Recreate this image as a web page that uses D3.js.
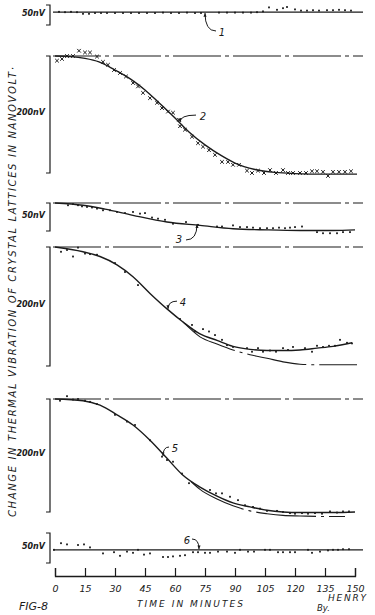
<!DOCTYPE html>
<html>
<head>
<meta charset="utf-8">
<script src="https://cdn.jsdelivr.net/npm/d3@7/dist/d3.min.js"></script>
<style>
  body { margin: 0; background: #fff; }
  text { font-family: "DejaVu Sans", sans-serif; font-style: italic; fill: #1a1a1a; }
</style>
</head>
<body>
<div id="chart"></div>
<script>
// ---- datos (minutos, nanovoltios) --------------------------------------
const timeTicks = [0, 15, 30, 45, 60, 75, 90, 105, 120, 135, 150];
const scaleLabels = ["50nV", "200nV", "50nV", "200nV", "200nV", "50nV"];

const dots1 = [[2,1],[5,0],[8,1],[11,0],[14,-4],[17,-4],[20,-2],[23,-2],[26,-2],[30,-2],[34,-2],[38,-2],
  [42,-2],[46,-2],[50,-2],[54,-1],[58,-2],[62,-2],[66,-1],[70,-2],[73,-2],[82,-1],[86,-1],[90,-1],
  [94,-1],[98,-1],[101,0],[104,2],[107,12],[111,6],[114,10],[116,13],[120,7],[123,4],[126,4],
  [129,5],[132,4],[136,5],[139,5],[142,6],[145,5],[148,4]];

const curve2 = [[0,0],[8,-1],[15,-4],[22,-10],[30,-24],[38,-40],[45,-58],[52,-80],[60,-106],[67,-130],
  [75,-152],[83,-170],[90,-183],[100,-194],[110,-199],[120,-201],[135,-202],[151,-202]];
const marks2 = [[1,-8],[3.5,-5],[6,0],[9,0],[12,9],[15,6],[17.5,6],[21,-1],[24,-10],[26.5,-15],[29.5,-24],
  [32.5,-29],[35.5,-35],[39,-46],[41.5,-52],[44,-63],[47.5,-72],[51,-80],[53.5,-89],[56.5,-95],[59,-97],
  [62,-109],[62.5,-120],[65,-126],[68.5,-138],[71.5,-149],[74,-155],[77,-161],[80,-169],[83.5,-181],
  [86.5,-181],[89,-186],[92,-186],[96,-196],[98.5,-200],[101.5,-196],[104.5,-200],[107.5,-195],
  [110.5,-200],[114,-195],[116.5,-200],[119,-200],[122.5,-200],[125.5,-200],[128.5,-197],[131,-197],
  [134,-198],[136.5,-205],[139,-198],[142,-198],[145,-198],[148,-197]];

const curve3 = [[0,0],[14,-4],[25,-11],[39,-22],[56,-34],[72.5,-40],[89,-46],[106,-48],[122.5,-49],[139,-49],[150,-48]];
const dots3 = [[6.5,-4],[9,-2],[11.5,-4],[13.5,-6],[16,-7],[18.5,-8],[21,-10],[24,-13],[27.5,-13],[31,-16],
  [35,-18],[39,-16],[42.5,-19],[45,-18],[48.5,-26],[51.5,-28],[55,-30],[59,-37],[65.5,-34],[71.5,-39],
  [81,-42],[83.5,-42],[89,-40],[92.5,-43],[96,-43],[99,-44],[102.5,-45],[106,-45],[109,-45],[112,-44],
  [115,-45],[117.5,-44],[120,-43],[123.5,-42],[131,-52],[134,-54],[137.5,-54],[141,-54],[144,-52],[147.5,-52]];

const curve4 = [[0,0],[14,-8],[22.5,-16],[31,-30],[39,-50],[47.5,-78],[56,-104],[64,-126],[72.5,-146],
  [81,-157],[89,-167],[97.5,-172],[106,-174],[114,-174],[122.5,-173],[131,-170],[139,-167],[148.5,-161]];
const theory4 = [[64,-126],[72.5,-151],[81,-163],[89,-173],[97.5,-181],[106,-187],[114,-193],[122.5,-197],
  [131,-198],[139,-198],[151,-198]];
const dots4 = [[3,-8],[6,-5],[9,-16],[11.5,-1],[15,-11],[17.5,-12],[21,-13],[30,-27],[35,-42],[41.5,-64],
  [62.5,-121],[68.5,-131],[70,-142],[74,-138],[77,-142],[80,-148],[83.5,-156],[86,-165],[89,-168],
  [96,-170],[98.5,-176],[101.5,-170],[104,-176],[107.5,-174],[110.5,-176],[114,-170],[116.5,-173],
  [119,-168],[125,-170],[128.5,-176],[131,-166],[134,-168],[137,-166],[140,-166],[142.5,-156],
  [146,-161],[148.5,-162]];

const curve5 = [[0,0],[14,-3],[22.5,-11],[31,-28],[39,-46],[47.5,-73],[56,-105],[64,-135],[72.5,-156],
  [81,-172],[89,-184],[97.5,-191],[106,-197],[114,-200],[122.5,-201],[139,-201],[150,-200]];
const theory5 = [[68,-146],[72.5,-160],[81,-177],[89,-189],[97.5,-198],[106,-203],[114,-206],[122.5,-207],
  [135,-208],[145,-208]];
const dots5 = [[2.5,-3],[6,5],[9,-1],[11.5,0],[15,-3],[17.5,-5],[21,-9],[30,-28],[36,-40],[40,-46],
  [47.5,-73],[53.5,-102],[56,-108],[59,-111],[63.5,-132],[67,-149],[77.5,-161],[80.5,-167],[83.5,-167],
  [87.5,-173],[91.5,-179],[95,-188],[99,-191],[102.5,-194],[106,-198],[111,-198],[114,-200],
  [117.5,-202],[120,-203],[123.5,-202],[126.5,-203],[130,-202],[133.5,-203],[137.5,-199],[141,-201],
  [144,-199],[147,-199]];

const dots6 = [[-0.5,0],[3,11],[6,9],[11.5,8],[14.5,9],[17.5,4],[24,-6],[29.5,-4],[32.5,-10],[36,-3],
  [39,-5],[41.5,0],[44.5,-8],[47.5,-6],[54,-12],[56.5,-12],[59,-11],[62.5,-10],[65,-9],[69,-4],
  [71.5,-4],[75,-5],[77.5,-5],[81.5,-3],[86,-3],[90,-5],[92.5,0],[96.5,-3],[99.5,-3],[105,0],
  [107.5,0],[111.5,-4],[114,-4],[117.5,-4],[120,-4],[126.5,0],[128.5,-5],[132.5,-3],[136.5,-1],
  [139,0],[141.5,0],[144,1],[147,1]];

// referencias numeradas: panel, punta de flecha, cola, texto (minutos, nV)
const callouts = [
  { panel: 0, text: "1", at: [75, -2],    tail: [80.5, -47], label: [83.5, -50] },
  { panel: 1, text: "2", at: [62.5, -113], tail: [70.5, -101], label: [74, -103] },
  { panel: 2, text: "3", at: [71, -38],   tail: [65.5, -66], label: [62, -66] },
  { panel: 3, text: "4", at: [56.5, -104], tail: [61, -91], label: [64, -94] },
  { panel: 4, text: "5", at: [54, -101],  tail: [57, -85], label: [60, -88] },
  { panel: 5, text: "6", at: [72, 1],     tail: [68.5, 18], label: [66, 15] }
];

// ---- layout -------------------------------------------------------------
const WIDTH = 375, HEIGHT = 615;
const INK = "#1b1b1b";
const svg = d3.select("#chart").append("svg").attr("width", WIDTH).attr("height", HEIGHT);

const x = d3.scaleLinear().domain([0, 150]).range([55, 355]);

const panels = [
  { domain: [18, -32],  range: [5, 25],    base: "solid",   curve: null,    theory: null,    pts: dots1,  kind: "dot" },
  { domain: [0, -200],  range: [56, 173],  base: "dashdot", curve: curve2,  theory: null,    pts: marks2, kind: "x" },
  { domain: [0, -50],   range: [203, 231], base: "dashdot", curve: curve3,  theory: null,    pts: dots3,  kind: "dot" },
  { domain: [0, -200],  range: [247, 366], base: "dashdot", curve: curve4,  theory: theory4, pts: dots4,  kind: "dot" },
  { domain: [0, -200],  range: [399, 512], base: "dashdot", curve: curve5,  theory: theory5, pts: dots5,  kind: "dot" },
  { domain: [28, -22],  range: [533, 563], base: "solid",   curve: null,    theory: null,    pts: dots6,  kind: "dot" }
];

const DASHDOT = "48,4,4,4";

panels.forEach((p, i) => {
    const y = d3.scaleLinear().domain(p.domain).range(p.range);
    p.y = y;
    const g = svg.append("g");

    // corchete de escala
    const bx = x(0) - 5;
    g.append("path")
        .attr("d", `M${bx - 4},${y(p.domain[0])}H${bx}V${y(p.domain[1])}H${bx - 4}`)
        .attr("fill", "none")
        .attr("stroke", INK)
        .attr("stroke-width", 1.2);

    g.append("text")
        .attr("x", bx - 5)
        .attr("y", (y(p.domain[0]) + y(p.domain[1])) / 2 - 2)
        .attr("text-anchor", "end")
        .attr("dominant-baseline", "central")
        .attr("font-size", "8px")
        .attr("font-weight", "bold")
        .text(scaleLabels[i]);

    // línea base
    g.append("line")
        .attr("x1", x(-1)).attr("x2", x(154))
        .attr("y1", y(0)).attr("y2", y(0))
        .attr("stroke", INK)
        .attr("stroke-width", 1.2)
        .attr("stroke-dasharray", p.base === "dashdot" ? DASHDOT : null);

    const line = d3.line().x(d => x(d[0])).y(d => y(d[1])).curve(d3.curveMonotoneX);

    if (p.theory) {
        g.append("path")
            .attr("d", line(p.theory))
            .attr("fill", "none")
            .attr("stroke", INK)
            .attr("stroke-width", 1.1)
            .attr("stroke-dasharray", "60,5,3,5");
    }
    if (p.curve) {
        g.append("path")
            .attr("d", line(p.curve))
            .attr("fill", "none")
            .attr("stroke", INK)
            .attr("stroke-width", 1.4);
    }

    if (p.kind === "x") {
        g.selectAll(".marca")
            .data(p.pts)
            .enter()
            .append("path")
            .attr("class", "marca")
            .attr("transform", d => `translate(${x(d[0])},${y(d[1])})`)
            .attr("d", "M-1.8,-1.8L1.8,1.8M-1.8,1.8L1.8,-1.8")
            .attr("stroke", INK)
            .attr("stroke-width", 1);
    } else {
        g.selectAll(".punto")
            .data(p.pts)
            .enter()
            .append("rect")
            .attr("class", "punto")
            .attr("x", d => x(d[0]) - 0.9)
            .attr("y", d => y(d[1]) - 0.9)
            .attr("width", 1.8)
            .attr("height", 1.8)
            .attr("fill", INK);
    }
});

// ---- referencias con flecha ---------------------------------------------
callouts.forEach(c => {
    const y = panels[c.panel].y;
    const tx = x(c.at[0]), ty = y(c.at[1]);
    const sx = x(c.tail[0]), sy = y(c.tail[1]);
    const cx = tx, cy = sy;
    svg.append("path")
        .attr("d", `M${sx},${sy}Q${cx},${cy} ${tx},${ty}`)
        .attr("fill", "none")
        .attr("stroke", INK)
        .attr("stroke-width", 1);
    const ang = Math.atan2(ty - cy, tx - cx);
    const a1 = ang + Math.PI - 0.4, a2 = ang + Math.PI + 0.4;
    svg.append("path")
        .attr("d", `M${tx},${ty}L${tx + 4 * Math.cos(a1)},${ty + 4 * Math.sin(a1)}L${tx + 4 * Math.cos(a2)},${ty + 4 * Math.sin(a2)}Z`)
        .attr("fill", INK);
    svg.append("text")
        .attr("x", x(c.label[0]))
        .attr("y", y(c.label[1]))
        .attr("text-anchor", "middle")
        .attr("dominant-baseline", "central")
        .attr("font-size", "10px")
        .text(c.text);
});

// ---- eje del tiempo -----------------------------------------------------
const eje = svg.append("g")
    .attr("transform", "translate(0,576)")
    .call(d3.axisBottom(x).tickValues(timeTicks).tickSize(-8).tickPadding(9).tickFormat(d3.format("d")));
eje.select(".domain").attr("stroke", INK).attr("stroke-width", 1.3);
eje.selectAll(".tick line").attr("stroke", INK).attr("stroke-width", 1.2);
eje.selectAll(".tick text")
    .attr("font-family", "DejaVu Sans, sans-serif")
    .attr("font-style", "italic")
    .attr("font-size", "9.5px")
    .attr("fill", INK);

svg.append("text")
    .attr("x", 137).attr("y", 607)
    .attr("font-size", "9px")
    .attr("textLength", 106)
    .attr("lengthAdjust", "spacing")
    .text("TIME IN MINUTES");

svg.append("text")
    .attr("x", 19).attr("y", 610)
    .attr("font-size", "11px")
    .text("FIG-8");

svg.append("text")
    .attr("x", 328).attr("y", 601)
    .attr("font-size", "9px")
    .attr("textLength", 38)
    .attr("lengthAdjust", "spacing")
    .text("HENRY");

svg.append("text")
    .attr("x", 317).attr("y", 611)
    .attr("font-size", "8.5px")
    .text("By.");

// ---- título vertical ----------------------------------------------------
svg.append("text")
    .attr("transform", "translate(16,517) rotate(-90)")
    .attr("font-size", "10px")
    .attr("textLength", 450)
    .attr("lengthAdjust", "spacing")
    .text("CHANGE IN THERMAL VIBRATION OF CRYSTAL LATTICES IN NANOVOLT·");
</script>
</body>
</html>
